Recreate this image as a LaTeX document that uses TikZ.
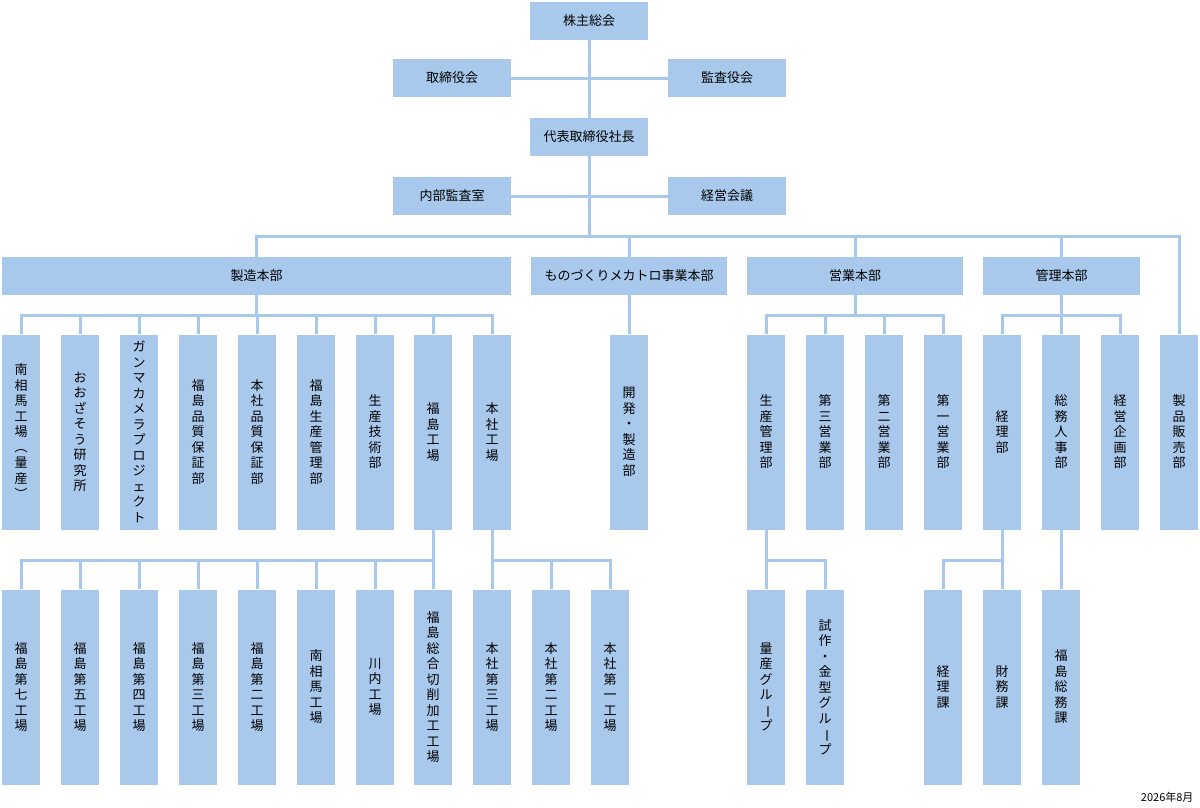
\documentclass[tikz,border=0pt]{standalone}
\usepackage{fontspec}
\usepackage{graphicx}
\setmainfont{Noto Sans CJK JP}
\definecolor{boxc}{HTML}{A9C9EC}
\newcommand{\chouon}{\rotatebox[origin=c]{-90}{ー}}
\newcommand{\lpar}{\rotatebox[origin=c]{-90}{（}}
\newcommand{\rpar}{\rotatebox[origin=c]{-90}{）}}
\begin{document}
\begin{tikzpicture}[x=1pt,y=-1pt,
 hb/.style={fill=boxc,minimum height=38pt,inner sep=0pt,font=\fontsize{13}{15}\selectfont},
 vb/.style={fill=boxc,minimum width=38pt,minimum height=195pt,inner sep=0pt,align=center,font=\fontsize{13}{15.5}\selectfont},
 ln/.style={draw=boxc,line width=3pt}]
\useasboundingbox (0,0) rectangle (1200,807);
\node[hb,minimum width=118pt] (kabu) at (589,21) {株主総会};
\node[hb,minimum width=118pt] (tori) at (452,78) {取締役会};
\node[hb,minimum width=118pt] (kansa) at (727,78) {監査役会};
\node[hb,minimum width=118pt] (pres) at (589,137) {代表取締役社長};
\node[hb,minimum width=118pt] (naibu) at (452,196) {内部監査室};
\node[hb,minimum width=118pt] (keiei) at (727,196) {経営会議};
\node[hb,minimum width=509pt] (seizo) at (256.5,276) {製造本部};
\node[hb,minimum width=196pt] (mono) at (629,276) {ものづくりメカトロ事業本部};
\node[hb,minimum width=216pt] (eigyo) at (855,276) {営業本部};
\node[hb,minimum width=157pt] (kanri) at (1061.5,276) {管理本部};
% row 3
\node[vb] (a1) at (21,432) {南\\相\\馬\\工\\場\\\lpar\\量\\産\\\rpar};
\node[vb] (a2) at (80,432) {お\\お\\ざ\\そ\\う\\研\\究\\所};
\node[vb] (a3) at (139,432) {ガ\\ン\\マ\\カ\\メ\\ラ\\プ\\ロ\\ジ\\ェ\\ク\\ト};
\node[vb] (a4) at (198,432) {福\\島\\品\\質\\保\\証\\部};
\node[vb] (a5) at (257,432) {本\\社\\品\\質\\保\\証\\部};
\node[vb] (a6) at (316,432) {福\\島\\生\\産\\管\\理\\部};
\node[vb] (a7) at (375,432) {生\\産\\技\\術\\部};
\node[vb] (a8) at (433,432) {福\\島\\工\\場};
\node[vb] (a9) at (492,432) {本\\社\\工\\場};
\node[vb] (b1) at (629,432) {開\\発\\・\\製\\造\\部};
\node[vb] (c1) at (766,432) {生\\産\\管\\理\\部};
\node[vb] (c2) at (825,432) {第\\三\\営\\業\\部};
\node[vb] (c3) at (884,432) {第\\二\\営\\業\\部};
\node[vb] (c4) at (943,432) {第\\一\\営\\業\\部};
\node[vb] (d1) at (1002,432) {経\\理\\部};
\node[vb] (d2) at (1061,432) {総\\務\\人\\事\\部};
\node[vb] (d3) at (1120,432) {経\\営\\企\\画\\部};
\node[vb] (e1) at (1179,432) {製\\品\\販\\売\\部};
% row 4
\node[vb] (f1) at (21,687) {福\\島\\第\\七\\工\\場};
\node[vb] (f2) at (80,687) {福\\島\\第\\五\\工\\場};
\node[vb] (f3) at (139,687) {福\\島\\第\\四\\工\\場};
\node[vb] (f4) at (198,687) {福\\島\\第\\三\\工\\場};
\node[vb] (f5) at (257,687) {福\\島\\第\\二\\工\\場};
\node[vb] (f6) at (316,687) {南\\相\\馬\\工\\場};
\node[vb] (f7) at (375,687) {川\\内\\工\\場};
\node[vb] (f8) at (433,687) {福\\島\\総\\合\\切\\削\\加\\工\\工\\場};
\node[vb] (g1) at (492,687) {本\\社\\第\\三\\工\\場};
\node[vb] (g2) at (551,687) {本\\社\\第\\二\\工\\場};
\node[vb] (g3) at (610,687) {本\\社\\第\\一\\工\\場};
\node[vb] (h1) at (766,687) {量\\産\\グ\\ル\\\chouon\\プ};
\node[vb] (h2) at (825,687) {試\\作\\・\\金\\型\\グ\\ル\\\chouon\\プ};
\node[vb] (i1) at (943,687) {経\\理\\課};
\node[vb] (i2) at (1002,687) {財\\務\\課};
\node[vb] (i3) at (1061,687) {福\\島\\総\\務\\課};
\node[font=\fontsize{11}{13}\selectfont,anchor=east] (date) at (1197,797) {2026年8月};
% connectors
\draw[ln] (kabu.south) -- (pres.north);
\draw[ln] (tori.east) -- (kansa.west);
\draw[ln] (naibu.east) -- (keiei.west);
\draw[ln] (pres.south) -- (pres.south |- 0,236);
\draw[ln] (seizo.north) |- (e1.north |- 0,236) -- (e1.north);
\foreach \n in {mono,eigyo,kanri} \draw[ln] (\n.north) -- (\n.north |- 0,236);
\draw[ln] (mono.south) -- (b1.north);
\draw[ln] (seizo.south) -- (seizo.south |- 0,315);
\draw[ln] (a1.north) |- (a9.north |- 0,315) -- (a9.north);
\foreach \n in {a2,a3,a4,a5,a6,a7,a8} \draw[ln] (\n.north) -- (\n.north |- 0,315);
\draw[ln] (eigyo.south) -- (eigyo.south |- 0,315);
\draw[ln] (c1.north) |- (c4.north |- 0,315) -- (c4.north);
\foreach \n in {c2,c3} \draw[ln] (\n.north) -- (\n.north |- 0,315);
\draw[ln] (kanri.south) -- (kanri.south |- 0,315);
\draw[ln] (d1.north) |- (d3.north |- 0,315) -- (d3.north);
\draw[ln] (d2.north) -- (d2.north |- 0,315);
\draw[ln] (a8.south) -- (f8.north);
\draw[ln] (f1.north) |- (f8.north |- 0,560);
\foreach \n in {f2,f3,f4,f5,f6,f7} \draw[ln] (\n.north) -- (\n.north |- 0,560);
\draw[ln] (a9.south) -- (g1.north);
\draw[ln] (g1.north |- 0,560) -| (g3.north);
\draw[ln] (g2.north) -- (g2.north |- 0,560);
\draw[ln] (c1.south) -- (h1.north);
\draw[ln] (h1.north |- 0,560) -| (h2.north);
\draw[ln] (d1.south) -- (i2.north);
\draw[ln] (i2.north |- 0,560) -| (i1.north);
\draw[ln] (d2.south) -- (i3.north);
\end{tikzpicture}
\end{document}
